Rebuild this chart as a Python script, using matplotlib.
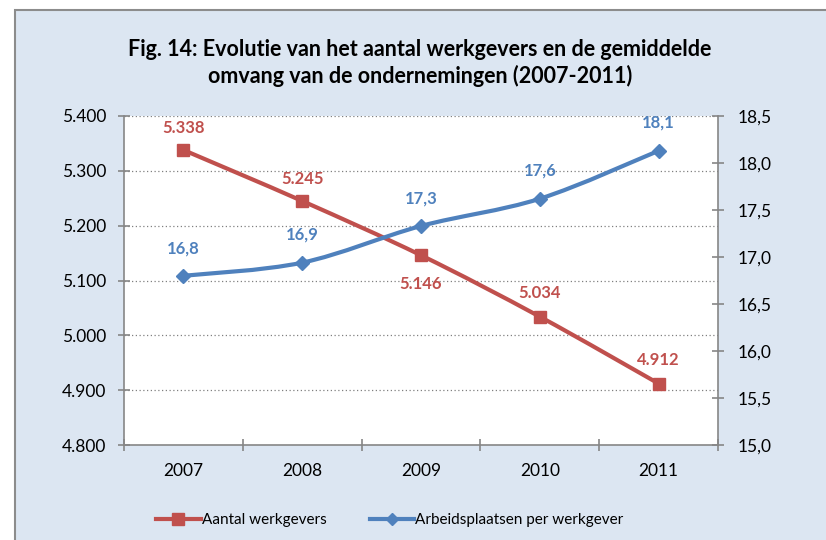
import matplotlib
matplotlib.use("Agg")
import matplotlib.pyplot as plt
from matplotlib.path import Path
from matplotlib.patches import PathPatch, Rectangle
from matplotlib.lines import Line2D

plt.rcParams['font.family'] = ['Lato', 'DejaVu Sans']

# data
years = ['2007', '2008', '2009', '2010', '2011']
werkgevers = [5338, 5245, 5146, 5034, 4912]
werkgevers_labels = ['5.338', '5.245', '5.146', '5.034', '4.912']
per_werkgever = [16.80, 16.94, 17.33, 17.62, 18.13]
per_werkgever_labels = ['16,8', '16,9', '17,3', '17,6', '18,1']
left_ticks = [4800, 4900, 5000, 5100, 5200, 5300, 5400]
right_ticks = [15.0, 15.5, 16.0, 16.5, 17.0, 17.5, 18.0, 18.5]

RED = '#C0504D'
BLUE = '#4F81BD'
GRAY = '#868686'
BG = '#DCE6F2'


def smooth_path(xs, ys):
    # excel-like smoothed line as cubic bezier segments
    verts = [(xs[0], ys[0])]
    codes = [Path.MOVETO]
    n = len(xs)
    for i in range(n - 1):
        x0, y0 = (xs[i - 1], ys[i - 1]) if i > 0 else (xs[i], ys[i])
        x1, y1 = xs[i], ys[i]
        x2, y2 = xs[i + 1], ys[i + 1]
        x3, y3 = (xs[i + 2], ys[i + 2]) if i + 2 < n else (x2, y2)
        c1 = (x1 + (x2 - x0) / 6, y1 + (y2 - y0) / 6)
        c2 = (x2 - (x3 - x1) / 6, y2 - (y3 - y1) / 6)
        verts += [c1, c2, (x2, y2)]
        codes += [Path.CURVE4] * 3
    return Path(verts, codes)


fig = plt.figure(figsize=(8.26, 5.4), dpi=100)
fig.patch.set_facecolor('white')
bg = Rectangle((15 / 826, -0.1), 1.0, 1 - 10 / 540 + 0.1,
               transform=fig.transFigure, facecolor=BG,
               edgecolor='#8C8C8C', linewidth=1.5, zorder=-10)
fig.patches.append(bg)

ax = fig.add_axes([124 / 826, 95 / 540, 594 / 826, 329 / 540])
ax2 = ax.twinx()
ax.set_facecolor('white')

x = list(range(len(years)))

ax.set_xlim(-0.5, len(years) - 0.5)
ax.set_ylim(4800, 5400)
ax2.set_ylim(15.0, 18.5)

# grid
for v in left_ticks[1:]:
    ax.axhline(v, color='#808080', linestyle=(0, (1, 2)), linewidth=0.9, zorder=1)

# red series
ax.add_patch(PathPatch(smooth_path(x, werkgevers), facecolor='none',
                       edgecolor=RED, linewidth=3, capstyle='round', zorder=3))
ax.plot(x, werkgevers, linestyle='none', marker='s', markersize=8, color=RED, zorder=4)
red_offsets = [16, 16, -21, 17, 17]
for xi, v, lab, off in zip(x, werkgevers, werkgevers_labels, red_offsets):
    ax.annotate(lab, (xi, v), xytext=(0, off), textcoords='offset points',
                ha='center', va='center', color=RED, fontsize=12, fontweight='bold')

# blue series
ax2.add_patch(PathPatch(smooth_path(x, per_werkgever), facecolor='none',
                        edgecolor=BLUE, linewidth=3, capstyle='round', zorder=3))
ax2.plot(x, per_werkgever, linestyle='none', marker='D', markersize=7, color=BLUE, zorder=4)
for xi, v, lab in zip(x, per_werkgever, per_werkgever_labels):
    ax2.annotate(lab, (xi, v), xytext=(0, 20), textcoords='offset points',
                 ha='center', va='center', color=BLUE, fontsize=12, fontweight='bold')

# axes styling
ax.set_yticks(left_ticks)
ax.set_yticklabels([f"{v:,.0f}".replace(',', '.') for v in left_ticks])
ax2.set_yticks(right_ticks)
ax2.set_yticklabels([f"{v:.1f}".replace('.', ',') for v in right_ticks])
ax.set_xticks(x)
ax.set_xticklabels(years)
ax.set_xticks([i - 0.5 for i in range(len(years) + 1)], minor=True)

for a in (ax, ax2):
    a.spines['top'].set_visible(False)
    for s in ('left', 'right', 'bottom'):
        a.spines[s].set_color(GRAY)
        a.spines[s].set_linewidth(1.2)
ax.spines['right'].set_visible(False)
ax2.spines['left'].set_visible(False)
ax2.spines['bottom'].set_visible(False)

ax.tick_params(axis='y', direction='inout', length=8, color=GRAY, width=1.2,
               labelsize=12.5, pad=9)
ax2.tick_params(axis='y', direction='inout', length=8, color=GRAY, width=1.2,
                labelsize=12.5, pad=10)
ax.tick_params(axis='x', which='major', length=0, labelsize=12.5, pad=13)
ax.tick_params(axis='x', which='minor', direction='inout', length=8, color=GRAY, width=1.2)

fig.text(420 / 826, 1 - 63 / 540,
         'Fig. 14: Evolutie van het aantal werkgevers en de gemiddelde\n'
         'omvang van de ondernemingen (2007-2011)',
         ha='center', va='center', fontsize=15.5, fontweight='bold', linespacing=1.3)

handles = [Line2D([], [], color=RED, lw=3, marker='s', markersize=8),
           Line2D([], [], color=BLUE, lw=3, marker='D', markersize=6)]
fig.legend(handles, ['Aantal werkgevers', 'Arbeidsplaatsen per werkgever'],
           loc='center', bbox_to_anchor=(390 / 826, 1 - 520 / 540), ncol=2,
           frameon=False, fontsize=11, handlelength=2.9, handletextpad=0.1,
           columnspacing=2.8)

fig.savefig('out.png', dpi=100, facecolor=fig.get_facecolor())
